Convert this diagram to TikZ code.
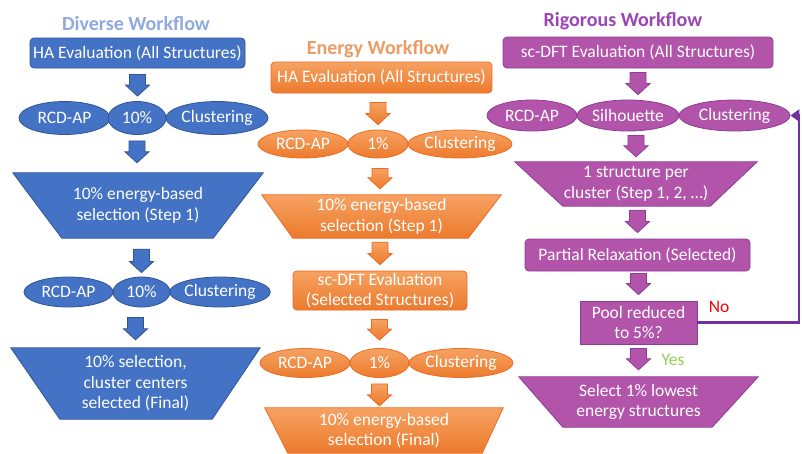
\documentclass[tikz,border=0pt]{standalone}
\usepackage{fontspec}
\setmainfont{Carlito}
\usetikzlibrary{shapes.geometric,calc,backgrounds,arrows.meta}
\definecolor{blueF}{HTML}{4472C4}
\definecolor{blueD}{HTML}{2F5597}
\definecolor{blueT}{HTML}{8FAADC}
\definecolor{oTop}{HTML}{F6A262}
\definecolor{oBot}{HTML}{EC7A2C}
\definecolor{oD}{HTML}{EE6A22}
\definecolor{oT}{HTML}{EC9C62}
\definecolor{purF}{HTML}{B254A9}
\definecolor{purD}{HTML}{8E3C9A}
\definecolor{purT}{HTML}{9C45B4}
\definecolor{loopC}{HTML}{7030A0}
\definecolor{yesC}{HTML}{92D050}
\definecolor{noC}{HTML}{FF0000}
% block arrow: style, node giving x, start, end
\newcommand\blockarrow[4]{\path[#1] let \p3=(#2), \p1=(#3), \p2=(#4) in
  (\x3-8pt,\y1) -- (\x3+8pt,\y1) -- (\x3+8pt,\y2+11pt) -- (\x3+12pt,\y2+11pt)
  -- (\x3,\y2) -- (\x3-12pt,\y2+11pt) -- (\x3-8pt,\y2+11pt) -- cycle;}
% trapezoid behind a node: style, node, left inset, right inset
\newcommand\trapfill[4]{\begin{scope}[on background layer]
  \path[#1] (#2.north west) -- (#2.north east) -- ([xshift=-#4]#2.south east)
  -- ([xshift=#3]#2.south west) -- cycle;\end{scope}}
\tikzset{
  txt/.style={font=\fontsize{17.5}{20.5}\selectfont, text=white, align=center, inner sep=0pt},
  box/.style={txt, rectangle, rounded corners=4pt, draw, line width=0.8pt},
  sqbox/.style={txt, rectangle, draw, line width=0.8pt},
  ell/.style={txt, ellipse, draw, line width=0.8pt},
  trapnode/.style={txt},
  ttl/.style={font=\fontsize{20}{24}\selectfont\bfseries, inner sep=0pt},
  bstyle/.style={fill=blueF, draw=blueD, line width=0.8pt},
  ostyle/.style={top color=oTop, bottom color=oBot, draw=oD, line width=0.8pt},
  pstyle/.style={fill=purF, draw=purD, line width=0.8pt},
  lbl/.style={font=\fontsize{17.5}{20}\selectfont, inner sep=0pt},
  loopline/.style={draw=loopC, line width=2.4pt, -{Triangle[length=9pt,width=12pt]}}
}
\begin{document}
\begin{tikzpicture}[x=1pt,y=-1pt]
\useasboundingbox (0,0) rectangle (802,453);
\begin{scope}[on background layer]
\fill[white] (0,0) rectangle (802,453);
\end{scope}

% ---------------- Diverse workflow ----------------
\node[ttl, text=blueT] (tD) at (136,24) {Diverse Workflow};
\node[box,bstyle,minimum width=215pt,minimum height=30pt] (haD) at (137.5,53) {HA Evaluation (All Structures)};
\node[ell,bstyle,minimum width=91pt,minimum height=33pt] (rD1) at (64.5,118) {RCD-AP};
\node[ell,bstyle,minimum width=58pt,minimum height=33pt] (pD1) at (137,118) {10\%};
\node[ell,bstyle,minimum width=102pt,minimum height=33pt] (cD1) at (217,118) {Clustering};
\node[trapnode,minimum width=250pt,minimum height=65pt] (tD1) at (138,205.5) {10\% energy-based\\selection (Step 1)};
\trapfill{bstyle}{tD1}{49pt}{50pt}
\node[ell,bstyle,minimum width=89pt,minimum height=30pt] (rD2) at (68.5,292) {RCD-AP};
\node[ell,bstyle,minimum width=57pt,minimum height=30pt] (pD2) at (141.5,292) {10\%};
\node[ell,bstyle,minimum width=100pt,minimum height=30pt] (cD2) at (220,292) {Clustering};
\node[trapnode,minimum width=249pt,minimum height=71pt] (tD2) at (135.5,383.5) {10\% selection,\\cluster centers\\selected (Final)};
\trapfill{bstyle}{tD2}{49pt}{48pt}
\blockarrow{bstyle}{haD.south}{[yshift=-6pt]haD.south}{[yshift=5pt]pD1.north}
\blockarrow{bstyle}{pD1.south}{[yshift=-6pt]pD1.south}{[yshift=10pt]tD1.north}
\blockarrow{bstyle}{pD2.north}{[yshift=-11pt]tD1.south}{[yshift=4pt]pD2.north}
\blockarrow{bstyle}{tD2.north}{[yshift=-10pt]pD2.south}{[yshift=8pt]tD2.north}

% ---------------- Energy workflow ----------------
\node[ttl, text=oT] (tE) at (378,49) {Energy Workflow};
\node[box,ostyle,minimum width=221pt,minimum height=31pt] (haE) at (381.5,77.5) {HA Evaluation (All Structures)};
\node[ell,ostyle,minimum width=90pt,minimum height=28pt] (rE1) at (303,144) {RCD-AP};
\node[ell,ostyle,minimum width=60pt,minimum height=28pt] (pE1) at (378,144) {1\%};
\node[ell,ostyle,minimum width=104pt,minimum height=28pt] (cE1) at (460,144) {Clustering};
\node[trapnode,minimum width=239pt,minimum height=43pt] (tE1) at (381.5,216.5) {10\% energy-based\\selection (Step 1)};
\trapfill{ostyle}{tE1}{31pt}{33pt}
\node[box,ostyle,minimum width=174pt,minimum height=39pt] (scE) at (380,290.5) {sc-DFT Evaluation\\(Selected Structures)};
\node[ell,ostyle,minimum width=90pt,minimum height=29pt] (rE2) at (305,363) {RCD-AP};
\node[ell,ostyle,minimum width=59pt,minimum height=29pt] (pE2) at (379.5,363) {1\%};
\node[ell,ostyle,minimum width=104pt,minimum height=29pt] (cE2) at (461,363) {Clustering};
\node[trapnode,minimum width=238pt,minimum height=45pt] (tE2) at (384,430.5) {10\% energy-based\\selection (Final)};
\trapfill{ostyle}{tE2}{23pt}{21pt}
\blockarrow{ostyle}{pE1.north}{[yshift=-9pt]haE.south}{[yshift=5pt]pE1.north}
\blockarrow{ostyle}{scE.north}{[yshift=-10pt]pE1.south}{[yshift=6pt]tE1.north}
\blockarrow{ostyle}{scE.north}{[yshift=-4pt]tE1.south}{[yshift=6pt]scE.north}
\blockarrow{ostyle}{pE2.north}{[yshift=-9pt]scE.south}{[yshift=8pt]pE2.north}
\blockarrow{ostyle}{pE2.south}{[yshift=-6pt]pE2.south}{[yshift=2pt]tE2.north}

% ---------------- Rigorous workflow ----------------
\node[ttl, text=purT] (tR) at (623,21) {Rigorous Workflow};
\node[box,pstyle,minimum width=270pt,minimum height=31pt] (scR) at (638,52.5) {sc-DFT Evaluation (All Structures)};
\node[ell,pstyle,minimum width=90pt,minimum height=31pt] (rR) at (532,115.5) {RCD-AP};
\node[ell,pstyle,minimum width=102pt,minimum height=31pt] (sR) at (628,115.5) {Silhouette};
\node[ell,pstyle,minimum width=111pt,minimum height=31pt] (cR) at (734.5,115.5) {Clustering};
\node[trapnode,minimum width=242pt,minimum height=44pt] (tR1) at (636,184) {1 structure per\\cluster (Step 1, 2, …)};
\trapfill{pstyle}{tR1}{48pt}{47pt}
\node[box,pstyle,minimum width=225pt,minimum height=32pt] (prR) at (637.5,255) {Partial Relaxation (Selected)};
\node[sqbox,pstyle,minimum width=117pt,minimum height=43pt] (poolR) at (638.5,322.5) {Pool reduced\\to 5\%?};
\node[trapnode,minimum width=239pt,minimum height=50pt] (tR2) at (638.5,402) {Select 1\% lowest\\energy structures};
\trapfill{pstyle}{tR2}{44pt}{46pt}
\blockarrow{pstyle}{scR.south}{[yshift=-4pt]scR.south}{[yshift=5pt]sR.north}
\blockarrow{pstyle}{tR1.north}{[yshift=-4pt]sR.south}{[yshift=5pt]tR1.north}
\blockarrow{pstyle}{prR.north}{[yshift=-4pt]tR1.south}{[yshift=6pt]prR.north}
\blockarrow{pstyle}{poolR.north}{[yshift=-2pt]prR.south}{[yshift=6pt]poolR.north}
\blockarrow{pstyle}{tR2.north}{[yshift=-4pt]poolR.south}{[yshift=7pt]tR2.north}
\node[lbl, text=noC] (no) at (719,307) {No};
\node[lbl, text=yesC] (yes) at (673,360) {Yes};
\coordinate (lc) at (799,322.5);
\draw[loopline] (poolR.east) -- (lc) |- (cR.east);
\end{tikzpicture}
\end{document}
